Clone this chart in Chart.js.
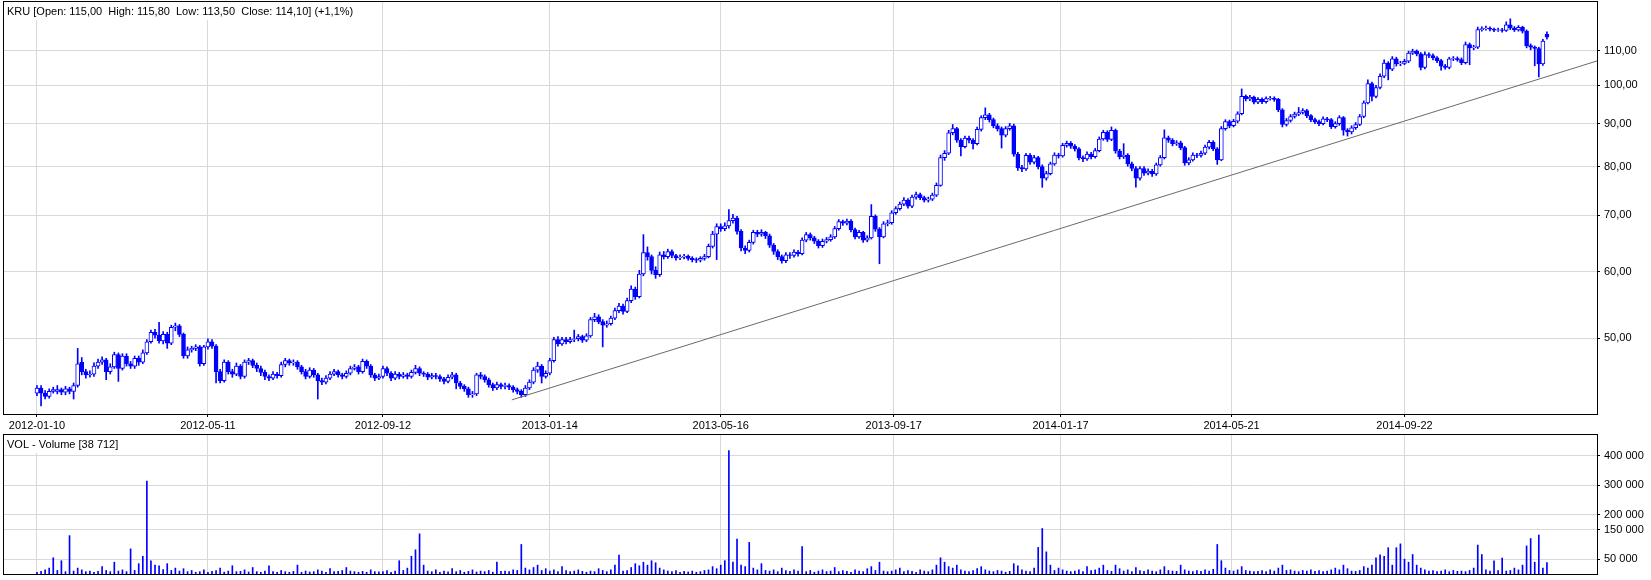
<!DOCTYPE html>
<html>
<head>
<meta charset="utf-8">
<script src="https://cdn.jsdelivr.net/npm/chart.js@4.4.1/dist/chart.umd.min.js"></script>
<style>
    body { margin: 0; background: #fff; }
    #priceChart { position: absolute; left: 0; top: 0; }
    #volChart { position: absolute; left: 0; top: 432px; }
</style>
</head>
<body>
<canvas id="priceChart" width="1651" height="432"></canvas>
<canvas id="volChart" width="1651" height="148"></canvas>
<script>
const ticker = 'KRU';

// session numbers of the date labels (0 = 2012-01-10)
const tickDays = [0, 84, 170, 252, 336, 421, 503, 587, 672];
const tickLabels = ['2012-01-10', '2012-05-11', '2012-09-12', '2013-01-14', '2013-05-16',
    '2013-09-17', '2014-01-17', '2014-05-21', '2014-09-22'];
const priceTicks = [50, 60, 70, 80, 90, 100, 110];
const volumeTicks = [50000, 150000, 200000, 300000, 400000];

// one candle every second session
const opens = [
    43.0, 43.6, 43.0, 42.6, 43.2, 43.2, 43.4, 43.1, 43.5, 43.2,
    43.9, 46.8, 45.6, 45.2, 45.3, 46.3, 46.8, 47.1, 45.6, 46.2,
    47.8, 46.0, 47.6, 46.6, 46.3, 47.3, 46.8, 48.0, 49.5, 50.8,
    50.4, 49.6, 50.5, 49.3, 51.5, 51.7, 50.5, 47.6, 48.4, 48.6,
    48.8, 46.6, 48.8, 49.5, 48.9, 45.6, 44.5, 46.8, 45.6, 45.3,
    46.3, 45.0, 46.8, 47.0, 46.4, 46.0, 45.5, 45.0, 44.8, 45.3,
    45.1, 46.5, 47.0, 46.7, 46.8, 46.2, 45.6, 45.0, 45.8, 45.2,
    44.5, 44.3, 44.8, 45.3, 45.6, 45.2, 45.0, 45.4, 46.0, 46.2,
    45.6, 46.9, 46.3, 45.2, 44.8, 45.0, 46.0, 45.4, 44.8, 45.3,
    45.0, 45.2, 45.0, 45.5, 46.0, 45.4, 45.3, 44.9, 45.1, 45.0,
    44.7, 44.4, 44.9, 45.2, 44.2, 43.8, 43.5, 42.8, 42.9, 45.2,
    45.0, 44.6, 44.0, 43.6, 44.0, 43.8, 43.9, 43.7, 43.4, 43.2,
    42.8, 43.6, 44.3, 45.8, 46.3, 45.0, 45.4, 47.0, 49.8, 49.2,
    49.8, 49.5, 49.8, 49.9, 50.2, 49.7, 50.3, 52.6, 53.0, 52.3,
    51.8, 52.0, 52.8, 53.9, 54.6, 53.8, 55.4, 57.2, 56.0, 59.6,
    63.2, 62.5, 60.2, 59.5, 62.8, 62.5, 63.4, 62.7, 62.3, 62.4,
    62.6, 62.2, 62.0, 61.9, 62.2, 62.5, 64.3, 66.5, 67.9, 67.5,
    68.0, 69.0, 69.5, 67.0, 64.0, 63.6, 65.0, 66.8, 66.5, 66.8,
    66.2, 64.5, 63.4, 62.5, 61.8, 62.8, 62.7, 63.3, 63.0, 65.4,
    66.4, 65.8, 65.2, 64.4, 65.2, 65.5, 66.0, 67.5, 68.8, 68.5,
    68.9, 67.3, 66.0, 66.8, 65.4, 65.8, 69.8, 67.4, 66.0, 68.4,
    68.6, 70.5, 71.3, 72.2, 73.0, 71.8, 73.6, 74.1, 73.5, 73.0,
    73.2, 74.0, 76.0, 82.0, 83.0, 87.8, 88.8, 86.0, 84.5, 86.5,
    86.0, 85.2, 88.6, 91.5, 92.2, 91.0, 89.5, 88.8, 87.2, 88.8,
    89.5, 82.8, 79.8, 79.5, 82.5, 81.0, 82.0, 80.0, 77.5, 78.5,
    80.6, 82.6, 82.4, 84.8, 85.3, 84.6, 84.0, 82.0, 81.7, 82.8,
    82.2, 83.6, 86.3, 87.9, 86.2, 88.4, 83.5, 82.2, 82.6, 80.6,
    79.6, 77.5, 79.6, 78.6, 79.0, 78.4, 80.4, 82.0, 86.6, 86.0,
    85.2, 85.4, 84.3, 80.8, 81.5, 82.6, 82.5, 83.0, 84.4, 85.5,
    84.0, 81.5, 88.8, 90.5, 89.5, 90.6, 92.5, 97.0, 96.3, 96.8,
    95.5, 96.2, 95.6, 96.4, 96.5, 96.2, 93.5, 89.8, 90.8, 91.8,
    92.4, 92.8, 93.3, 92.0, 91.0, 90.5, 90.0, 91.2, 91.0, 89.3,
    90.0, 91.5, 88.4, 88.0, 89.0, 89.8, 91.8, 95.3, 100.5, 97.0,
    99.4, 102.5, 106.3, 104.5, 107.5, 106.0, 106.2, 106.8, 109.2, 109.8,
    109.0, 105.0, 108.8, 108.5, 107.8, 107.0, 105.4, 105.0, 107.5, 107.6,
    107.3, 106.4, 111.8, 110.8, 111.0, 116.5, 116.8, 117.0, 116.6, 116.3,
    116.4, 116.2, 118.0, 117.0, 116.4, 117.2, 116.0, 111.5, 111.0, 110.6,
    106.0, 115.0
];
const highs = [
    43.9, 43.9, 43.3, 43.5, 43.7, 43.9, 43.6, 43.8, 43.7, 44.2,
    48.6, 47.4, 45.9, 45.7, 46.7, 47.2, 47.5, 47.3, 46.6, 48.1,
    48.0, 47.9, 47.9, 46.9, 47.6, 47.6, 48.4, 49.8, 51.1, 51.2,
    52.2, 50.9, 50.8, 51.8, 52.1, 51.9, 50.7, 48.8, 48.9, 49.1,
    49.0, 49.0, 49.9, 49.8, 49.1, 45.9, 47.1, 47.0, 45.9, 46.7,
    46.5, 47.1, 47.3, 47.2, 46.7, 46.3, 45.8, 45.2, 45.6, 45.5,
    46.8, 47.3, 47.2, 47.1, 47.0, 46.4, 45.9, 46.1, 46.0, 45.4,
    44.8, 45.1, 45.6, 45.9, 45.8, 45.4, 45.7, 46.3, 46.5, 46.4,
    47.2, 47.1, 46.5, 45.4, 45.3, 46.3, 46.2, 45.6, 45.6, 45.5,
    45.5, 45.4, 45.8, 46.4, 46.2, 45.6, 45.5, 45.4, 45.4, 45.2,
    44.9, 45.2, 45.5, 45.4, 44.4, 44.0, 43.7, 43.2, 45.4, 45.5,
    45.2, 44.8, 44.2, 44.3, 44.2, 44.2, 44.1, 43.9, 43.6, 43.4,
    43.9, 44.6, 46.1, 46.8, 46.5, 45.7, 47.3, 50.1, 50.2, 50.1,
    50.1, 50.1, 51.1, 50.5, 50.4, 50.6, 52.9, 53.5, 53.3, 52.6,
    52.4, 53.1, 54.3, 55.0, 54.9, 55.8, 57.7, 57.5, 60.2, 66.4,
    64.2, 62.8, 60.8, 63.3, 63.4, 63.8, 63.7, 62.9, 62.8, 62.9,
    62.8, 62.5, 62.3, 62.5, 62.9, 64.7, 67.0, 68.4, 68.4, 68.6,
    71.1, 70.2, 69.8, 67.3, 64.4, 65.4, 67.2, 67.2, 67.3, 67.0,
    66.5, 64.8, 63.7, 62.8, 63.2, 63.2, 63.7, 63.6, 65.8, 66.8,
    66.7, 66.1, 65.5, 65.6, 65.9, 66.4, 67.9, 69.2, 69.1, 69.3,
    69.2, 67.6, 67.2, 67.0, 66.2, 72.1, 70.1, 67.7, 68.8, 69.1,
    70.9, 71.7, 72.6, 73.5, 73.3, 74.0, 74.6, 74.4, 73.8, 73.6,
    74.4, 76.5, 82.6, 83.6, 88.4, 89.8, 89.1, 86.4, 87.0, 87.0,
    86.4, 89.2, 92.0, 94.0, 92.6, 91.4, 90.0, 89.2, 89.3, 90.1,
    89.9, 83.2, 80.3, 83.0, 82.9, 82.5, 82.3, 80.4, 79.0, 81.0,
    83.1, 83.0, 85.3, 85.8, 85.7, 85.0, 84.3, 82.4, 83.3, 83.2,
    84.1, 86.8, 88.4, 88.3, 89.2, 88.7, 83.9, 85.2, 82.9, 81.0,
    80.0, 80.0, 80.0, 79.5, 79.4, 80.8, 82.5, 88.5, 87.0, 86.4,
    85.9, 85.8, 84.6, 82.0, 83.1, 83.0, 83.5, 84.9, 86.0, 85.9,
    84.3, 89.3, 91.0, 90.9, 91.1, 93.0, 99.0, 97.4, 97.3, 97.1,
    96.7, 96.6, 96.9, 97.0, 96.9, 96.5, 93.8, 91.3, 92.3, 92.9,
    94.1, 93.8, 93.6, 92.3, 91.4, 90.9, 91.7, 91.6, 91.3, 90.5,
    92.0, 91.8, 88.8, 89.5, 90.3, 92.3, 95.8, 101.5, 100.9, 100.0,
    103.2, 107.2, 106.7, 108.2, 108.0, 106.8, 107.4, 109.8, 110.4, 110.2,
    109.4, 109.6, 109.3, 109.0, 108.2, 107.4, 105.9, 108.0, 108.2, 108.1,
    107.8, 112.6, 112.3, 111.6, 117.3, 117.4, 117.6, 117.4, 117.0, 117.0,
    116.9, 119.0, 120.0, 117.5, 117.8, 117.6, 116.4, 112.0, 111.4, 111.0,
    113.4, 115.8
];
const lows = [
    42.7, 41.5, 42.3, 42.4, 43.0, 42.9, 42.8, 42.8, 42.9, 42.3,
    43.7, 45.2, 44.8, 44.9, 45.0, 46.0, 46.5, 44.6, 45.3, 46.0,
    44.4, 45.8, 46.3, 46.0, 46.0, 46.4, 46.6, 47.8, 49.3, 50.0,
    49.3, 49.2, 48.6, 49.1, 51.0, 50.2, 47.3, 47.3, 48.1, 48.3,
    46.3, 46.4, 48.5, 48.6, 44.2, 44.2, 44.3, 45.3, 44.9, 45.1,
    44.7, 44.8, 46.5, 46.1, 45.6, 45.1, 44.6, 44.5, 44.6, 44.8,
    44.9, 46.2, 46.4, 46.4, 45.9, 45.3, 44.7, 44.8, 44.9, 42.3,
    44.0, 44.1, 44.6, 45.1, 44.9, 44.7, 44.8, 45.2, 45.8, 45.3,
    45.4, 46.0, 44.9, 44.5, 44.6, 44.8, 45.1, 44.5, 44.6, 44.7,
    44.8, 44.7, 44.8, 45.3, 45.1, 45.0, 44.6, 44.7, 44.7, 44.4,
    44.1, 44.2, 44.7, 43.5, 43.5, 43.2, 42.5, 42.5, 42.7, 44.7,
    44.3, 43.7, 43.3, 43.4, 43.5, 43.5, 43.4, 43.1, 42.9, 42.5,
    42.6, 43.4, 44.1, 45.5, 44.2, 44.8, 45.2, 46.8, 48.9, 49.0,
    49.2, 49.3, 49.5, 49.6, 49.4, 49.5, 50.1, 52.3, 52.0, 48.8,
    51.5, 51.8, 52.6, 53.6, 53.4, 53.6, 55.1, 55.6, 55.8, 59.3,
    61.9, 59.6, 58.9, 59.2, 62.1, 62.2, 62.3, 61.9, 62.0, 62.1,
    61.9, 61.6, 61.5, 61.6, 61.9, 62.3, 64.0, 62.0, 67.0, 67.1,
    67.6, 68.5, 66.5, 63.5, 63.0, 63.3, 64.7, 66.0, 66.1, 65.7,
    64.1, 62.9, 62.0, 61.4, 61.5, 62.2, 62.4, 62.6, 62.8, 65.1,
    65.4, 64.8, 64.0, 64.1, 64.9, 65.2, 65.7, 67.2, 68.1, 68.2,
    66.9, 65.6, 65.7, 65.0, 65.1, 65.6, 67.0, 61.3, 65.8, 68.0,
    68.3, 70.2, 71.0, 71.9, 71.4, 71.5, 73.2, 73.1, 72.6, 72.6,
    72.9, 73.7, 75.8, 81.4, 82.7, 87.3, 85.5, 82.4, 84.2, 85.4,
    84.0, 84.9, 88.2, 91.0, 90.4, 89.0, 88.2, 84.2, 86.8, 88.4,
    82.3, 79.2, 78.9, 79.2, 80.5, 80.6, 79.5, 75.6, 77.1, 78.2,
    80.3, 81.9, 82.1, 84.4, 84.1, 83.5, 81.5, 81.1, 81.4, 81.7,
    81.9, 83.3, 86.0, 85.7, 85.9, 83.0, 81.7, 81.8, 80.1, 79.1,
    75.6, 77.1, 78.1, 78.2, 77.9, 78.1, 80.1, 81.7, 85.5, 84.7,
    84.8, 83.8, 80.3, 80.4, 81.2, 82.0, 82.1, 82.7, 84.0, 83.6,
    80.5, 81.3, 88.4, 89.0, 89.2, 90.2, 92.2, 95.8, 95.9, 95.0,
    95.1, 95.1, 95.2, 96.0, 95.7, 93.0, 89.2, 89.4, 90.4, 91.4,
    92.0, 92.4, 91.5, 90.5, 90.0, 89.5, 89.7, 90.5, 88.8, 88.9,
    89.6, 87.2, 87.0, 87.5, 88.6, 89.5, 91.5, 95.0, 95.8, 96.6,
    99.0, 102.1, 101.5, 104.1, 105.4, 105.5, 105.8, 106.4, 108.8, 108.4,
    104.3, 104.6, 107.9, 107.2, 106.4, 104.2, 104.5, 104.6, 107.0, 106.8,
    105.8, 106.0, 105.8, 110.2, 110.6, 116.0, 116.3, 116.1, 115.8, 115.9,
    115.7, 115.9, 116.5, 115.9, 116.0, 115.4, 110.8, 110.2, 105.5, 102.3,
    105.6, 113.5
];
const closes = [
    43.6, 43.0, 42.6, 43.2, 43.4, 43.4, 43.1, 43.5, 43.2, 43.9,
    46.6, 45.6, 45.2, 45.3, 46.3, 46.8, 47.1, 45.6, 46.2, 47.8,
    46.0, 47.6, 46.6, 46.3, 47.3, 46.8, 48.0, 49.5, 50.8, 50.4,
    49.6, 50.5, 49.3, 51.5, 51.7, 50.5, 47.6, 48.4, 48.6, 48.8,
    46.6, 48.8, 49.5, 48.9, 45.6, 44.5, 46.8, 45.6, 45.3, 46.3,
    45.0, 46.8, 47.0, 46.4, 46.0, 45.5, 45.0, 44.8, 45.3, 45.1,
    46.5, 47.0, 46.7, 46.8, 46.2, 45.6, 45.0, 45.8, 45.2, 44.5,
    44.3, 44.8, 45.3, 45.6, 45.2, 45.0, 45.4, 46.0, 46.2, 45.6,
    46.9, 46.3, 45.2, 44.8, 45.0, 46.0, 45.4, 44.8, 45.3, 45.0,
    45.2, 45.0, 45.5, 46.0, 45.4, 45.3, 44.9, 45.1, 45.0, 44.7,
    44.4, 44.9, 45.2, 44.2, 43.8, 43.5, 42.8, 42.9, 45.2, 45.0,
    44.6, 44.0, 43.6, 44.0, 43.8, 43.9, 43.7, 43.4, 43.2, 42.8,
    43.6, 44.3, 45.8, 46.3, 45.0, 45.4, 47.0, 49.8, 49.2, 49.8,
    49.5, 49.8, 49.9, 50.2, 49.7, 50.3, 52.6, 53.0, 52.3, 51.8,
    52.0, 52.8, 53.9, 54.6, 53.8, 55.4, 57.2, 56.0, 59.6, 63.2,
    62.5, 60.2, 59.5, 62.8, 62.5, 63.4, 62.7, 62.3, 62.4, 62.6,
    62.2, 62.0, 61.9, 62.2, 62.5, 64.3, 66.5, 67.9, 67.5, 68.0,
    69.0, 69.5, 67.0, 64.0, 63.6, 65.0, 66.8, 66.5, 66.8, 66.2,
    64.5, 63.4, 62.5, 61.8, 62.8, 62.7, 63.3, 63.0, 65.4, 66.4,
    65.8, 65.2, 64.4, 65.2, 65.5, 66.0, 67.5, 68.8, 68.5, 68.9,
    67.3, 66.0, 66.8, 65.4, 65.8, 69.8, 67.4, 66.0, 68.4, 68.6,
    70.5, 71.3, 72.2, 73.0, 71.8, 73.6, 74.1, 73.5, 73.0, 73.2,
    74.0, 76.0, 82.0, 83.0, 87.8, 88.8, 86.0, 84.5, 86.5, 86.0,
    85.2, 88.6, 91.5, 92.2, 91.0, 89.5, 88.8, 87.2, 88.8, 89.5,
    82.8, 79.8, 79.5, 82.5, 81.0, 82.0, 80.0, 77.5, 78.5, 80.6,
    82.6, 82.4, 84.8, 85.3, 84.6, 84.0, 82.0, 81.7, 82.8, 82.2,
    83.6, 86.3, 87.9, 86.2, 88.4, 83.5, 82.2, 82.6, 80.6, 79.6,
    77.5, 79.6, 78.6, 79.0, 78.4, 80.4, 82.0, 86.6, 86.0, 85.2,
    85.4, 84.3, 80.8, 81.5, 82.6, 82.5, 83.0, 84.4, 85.5, 84.0,
    81.5, 88.8, 90.5, 89.5, 90.6, 92.5, 97.0, 96.3, 96.8, 95.5,
    96.2, 95.6, 96.4, 96.5, 96.2, 93.5, 89.8, 90.8, 91.8, 92.4,
    92.8, 93.3, 92.0, 91.0, 90.5, 90.0, 91.2, 91.0, 89.3, 90.0,
    91.5, 88.4, 88.0, 89.0, 89.8, 91.8, 95.3, 100.5, 97.0, 99.4,
    102.5, 106.3, 104.5, 107.5, 106.0, 106.2, 106.8, 109.2, 109.8, 109.0,
    105.0, 108.8, 108.5, 107.8, 107.0, 105.4, 105.0, 107.5, 107.6, 107.3,
    106.4, 111.8, 110.8, 111.0, 116.5, 116.8, 117.0, 116.6, 116.3, 116.4,
    116.2, 118.0, 117.0, 116.4, 117.2, 116.0, 111.5, 111.0, 110.6, 106.0,
    112.9, 114.1
];
const volumes = [
    6000, 9000, 14000, 20000, 55000, 12000, 45000, 8000, 130000, 10000,
    20000, 14000, 8000, 10000, 6000, 9000, 25000, 12000, 8000, 40000,
    10000, 14000, 8000, 85000, 12000, 35000, 60000, 315000, 45000, 30000,
    28000, 15000, 35000, 12000, 20000, 10000, 18000, 8000, 12000, 6000,
    8000, 14000, 6000, 9000, 12000, 20000, 6000, 10000, 28000, 8000,
    9000, 14000, 7000, 22000, 8000, 6000, 10000, 28000, 8000, 6000,
    12000, 8000, 6000, 9000, 30000, 6000, 10000, 7000, 8000, 14000,
    10000, 6000, 18000, 8000, 9000, 12000, 22000, 10000, 8000, 6000,
    9000, 6000, 14000, 8000, 7000, 8000, 12000, 6000, 10000, 45000,
    12000, 20000, 60000, 82000, 136000, 30000, 10000, 8000, 14000, 6000,
    10000, 7000, 18000, 8000, 12000, 6000, 9000, 14000, 7000, 10000,
    8000, 12000, 6000, 40000, 9000, 10000, 8000, 14000, 12000, 100000,
    20000, 14000, 22000, 30000, 12000, 18000, 10000, 14000, 8000, 25000,
    12000, 8000, 10000, 14000, 9000, 6000, 10000, 8000, 18000, 12000,
    8000, 14000, 30000, 64000, 10000, 12000, 22000, 35000, 28000, 40000,
    30000, 45000, 38000, 20000, 14000, 10000, 8000, 12000, 6000, 9000,
    7000, 10000, 6000, 8000, 12000, 14000, 25000, 18000, 30000, 45000,
    418000, 40000, 118000, 30000, 25000, 107000, 20000, 14000, 35000, 12000,
    10000, 14000, 8000, 20000, 12000, 9000, 14000, 10000, 93000, 8000,
    12000, 6000, 10000, 14000, 8000, 10000, 22000, 8000, 12000, 9000,
    6000, 14000, 10000, 8000, 18000, 25000, 12000, 40000, 10000, 8000,
    10000, 14000, 20000, 8000, 12000, 9000, 6000, 14000, 10000, 8000,
    14000, 30000, 55000, 40000, 25000, 20000, 30000, 14000, 10000, 8000,
    12000, 18000, 25000, 14000, 10000, 8000, 12000, 10000, 6000, 9000,
    35000, 28000, 14000, 10000, 8000, 20000, 90000, 154000, 75000, 30000,
    12000, 20000, 14000, 10000, 8000, 10000, 14000, 8000, 25000, 12000,
    14000, 20000, 30000, 12000, 9000, 30000, 18000, 10000, 14000, 8000,
    22000, 12000, 9000, 14000, 10000, 8000, 14000, 25000, 12000, 10000,
    9000, 30000, 14000, 10000, 8000, 12000, 9000, 14000, 10000, 16000,
    100000, 45000, 20000, 12000, 10000, 14000, 25000, 12000, 10000, 8000,
    9000, 12000, 8000, 14000, 10000, 20000, 30000, 12000, 14000, 10000,
    8000, 12000, 10000, 14000, 9000, 12000, 8000, 10000, 14000, 20000,
    14000, 30000, 18000, 10000, 9000, 12000, 25000, 20000, 30000, 55000,
    65000, 60000, 89000, 30000, 89000, 102000, 50000, 40000, 66000, 30000,
    20000, 14000, 10000, 12000, 8000, 10000, 14000, 8000, 12000, 9000,
    10000, 8000, 12000, 20000, 98000, 66000, 14000, 10000, 45000, 12000,
    54000, 10000, 12000, 20000, 14000, 30000, 95000, 120000, 40000, 132000,
    20000, 38712
];

// support line: two anchor points (session, price)
const trendDays = [233.3, 766.6];
const trendPrices = [42.2, 106.9];

const BLUE = '#0000ff';
const GRID = '#d9d9d9';
const FONT = { family: '"Liberation Sans", Arial, sans-serif', size: 11 };

function fmtPrice(v) {
    return v.toFixed(2).replace('.', ',');
}

function fmtVolume(v) {
    return String(Math.round(v)).replace(/\B(?=(\d{3})+(?!\d))/g, ' ');
}

// black frame round the plot and the title text in its top left corner
const framePlugin = {
    id: 'frame',
    afterDraw(chart, args, opts) {
        const ctx = chart.ctx;
        const a = chart.chartArea;
        ctx.save();
        ctx.font = '11px "Liberation Sans", Arial, sans-serif';
        const w = ctx.measureText(opts.text).width;
        ctx.fillStyle = '#fff';
        ctx.fillRect(a.left + 1, a.top + 1, w + 6, 18);
        ctx.fillStyle = '#000';
        ctx.textBaseline = 'middle';
        ctx.fillText(opts.text, a.left + 4, a.top + 11);
        ctx.strokeStyle = '#000';
        ctx.lineWidth = 1;
        ctx.strokeRect(a.left + 0.5, a.top + 0.5, a.right - a.left, a.bottom - a.top);
        ctx.restore();
    }
};

const last = closes.length - 1;
const change = (closes[last] / closes[last - 1] - 1) * 100;
const priceTitle = ticker + ' [Open: ' + fmtPrice(opens[last]) + '  High: ' + fmtPrice(highs[last]) +
    '  Low: ' + fmtPrice(lows[last]) + '  Close: ' + fmtPrice(closes[last]) + '] (' +
    (change >= 0 ? '+' : '') + change.toFixed(1).replace('.', ',') + '%)';
const volumeTitle = 'VOL - Volume [' + fmtVolume(volumes[volumes.length - 1]) + ']';

const dayMin = -16.7;
const dayMax = 766.6;

// keep chart.js from reserving room for half labels at the plot ends
function noScalePadding(s) {
    s.paddingTop = 0;
    s.paddingBottom = 0;
    s.paddingLeft = 0;
    s.paddingRight = 0;
}

function xScale(showLabels, height) {
    return {
        type: 'linear',
        min: dayMin,
        max: dayMax,
        offset: false,
        afterBuildTicks: s => { s.ticks = tickDays.map(v => ({ value: v })); },
        afterFit: s => { s.height = height; noScalePadding(s); },
        border: { display: false },
        grid: { color: GRID, tickColor: '#000', tickLength: 3, offset: false, drawTicks: showLabels },
        ticks: {
            display: showLabels,
            autoSkip: false,
            maxRotation: 0,
            padding: 2,
            color: '#000',
            font: FONT,
            callback: (v, i) => tickLabels[i]
        }
    };
}

function yScale(extra) {
    return Object.assign({
        position: 'right',
        afterFit: s => { s.width = 54; noScalePadding(s); },
        border: { display: false },
        grid: { color: GRID, tickColor: '#000', tickLength: 3 }
    }, extra);
}

const priceChart = new Chart(document.getElementById('priceChart'), {
    type: 'bar',
    data: {
        datasets: [
            {
                type: 'line',
                data: trendDays.map((d, i) => ({ x: d, y: trendPrices[i] })),
                borderColor: '#6a6a6a',
                borderWidth: 1,
                pointRadius: 0,
                order: 0
            },
            {
                data: closes.map((c, i) => ({ x: 2 * i, y: [Math.min(opens[i], c), Math.max(opens[i], c)] })),
                backgroundColor: closes.map((c, i) => c >= opens[i] ? '#ffffff' : BLUE),
                borderColor: BLUE,
                borderWidth: 1,
                borderSkipped: false,
                barThickness: 4,
                grouped: false,
                order: 1
            },
            {
                data: highs.map((h, i) => ({ x: 2 * i, y: [lows[i], h] })),
                backgroundColor: BLUE,
                borderWidth: 0,
                barThickness: 1,
                grouped: false,
                order: 2
            }
        ]
    },
    options: {
        responsive: false,
        animation: false,
        devicePixelRatio: 1,
        layout: { padding: { top: 1, left: 3, right: 0, bottom: 0 } },
        plugins: {
            legend: { display: false },
            tooltip: { enabled: false },
            frame: { text: priceTitle }
        },
        scales: {
            x: xScale(true, 18),
            y: yScale({
                type: 'logarithmic',
                min: 40.6,
                max: 126.0,
                afterBuildTicks: s => { s.ticks = priceTicks.map(v => ({ value: v })); },
                ticks: { autoSkip: false, padding: 4, color: '#000', font: FONT, callback: v => fmtPrice(v) }
            })
        }
    },
    plugins: [framePlugin]
});

const volChart = new Chart(document.getElementById('volChart'), {
    type: 'bar',
    data: {
        datasets: [{
            data: volumes.map((v, i) => ({ x: 2 * i, y: v })),
            backgroundColor: BLUE,
            borderWidth: 0,
            barThickness: 1
        }]
    },
    options: {
        responsive: false,
        animation: false,
        devicePixelRatio: 1,
        layout: { padding: { top: 2, left: 3, right: 0, bottom: 0 } },
        plugins: {
            legend: { display: false },
            tooltip: { enabled: false },
            frame: { text: volumeTitle }
        },
        scales: {
            x: xScale(false, 6),
            y: yScale({
                min: 0,
                max: 474000,
                afterBuildTicks: s => { s.ticks = volumeTicks.map(v => ({ value: v })); },
                ticks: { autoSkip: false, padding: 4, color: '#000', font: FONT, callback: v => fmtVolume(v) }
            })
        }
    },
    plugins: [framePlugin]
});
</script>
</body>
</html>
